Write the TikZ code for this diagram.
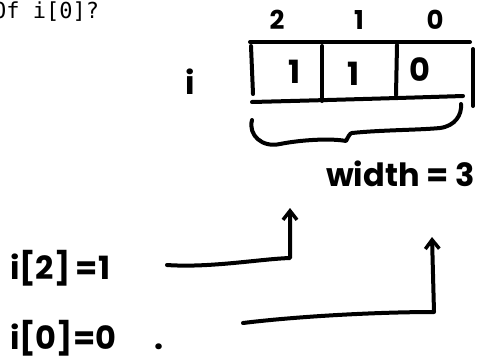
\documentclass[tikz,border=0pt]{standalone}
\usepackage{fontspec}
\setmainfont{Poppins}
\newfontfamily\qfont{DejaVu Sans Mono}
\usetikzlibrary{arrows.meta}
\begin{document}
\begin{tikzpicture}[x=1pt,y=1pt,
  ink/.style={line width=4pt,line cap=round,line join=round,black},
  hand/.style={inner sep=0pt,font=\bfseries\fontsize{32}{32}\selectfont},
  handsm/.style={inner sep=0pt,font=\bfseries\fontsize{26}{26}\selectfont},
  arr/.style={ink,-{Straight Barb[length=9pt,width=14pt,line width=3.5pt]}}]
\useasboundingbox (0,0) rectangle (481,-362);
% question text
\node[anchor=west,inner sep=0pt,font=\qfont\fontsize{22}{22}\selectfont] (q) at (-7,-12) {Of i[0]?};
% index labels
\node[handsm] (n2) at (277,-20) {2};
\node[handsm] (n1) at (359,-20) {1};
\node[handsm] (n0) at (435,-20) {0};
\node[hand] (iname) at (190,-82) {i};
% box
\coordinate (tl) at (250,-42);
\coordinate (tr) at (470,-42);
\draw[ink] (tl) -- (tr);
\draw[ink] (251,-46) -- (253,-94);
\draw[ink] (252,-102) .. controls (330,-100) and (400,-98) .. (463,-96);
\draw[ink] (322,-46) -- (322,-101);
\draw[ink] (397,-45) -- (396,-95);
\draw[ink] (473,-49) -- (473,-106);
\node[hand] (v2) at (295,-72) {1};
\node[hand] (v1) at (354,-74) {1};
\node[hand] (v0) at (420,-70) {0};
% brace
\draw[ink] (252,-120) .. controls (248,-135) and (262,-148) .. (280,-144)
  .. controls (300,-140) and (330,-138) .. (346,-141)
  .. controls (348,-137) and (350,-133) .. (352,-133)
  .. controls (380,-130) and (420,-130) .. (440,-128)
  .. controls (455,-126) and (462,-115) .. (461,-104);
\node[hand,anchor=east] (w) at (475,-174) {width = 3};
% bottom labels
\node[hand,anchor=west] (i2) at (10,-268) {i[2]\,=1};
\node[hand,anchor=west] (i0) at (10,-338) {i[0]=0\hspace{38pt}.};
\coordinate (a1s) at (167,-265);
\coordinate (a1c) at (290,-258);
\coordinate (a1e) at (290,-208);
\coordinate (a2s) at (243,-323);
\coordinate (a2c) at (434,-312);
\coordinate (a2e) at (432,-237);
\draw[arr] (a1s) .. controls (210,-268) and (260,-259) .. (a1c) -- (a1e);
\draw[arr] (a2s) .. controls (300,-316) and (380,-312) .. (a2c) -- (a2e);
\end{tikzpicture}
\end{document}
